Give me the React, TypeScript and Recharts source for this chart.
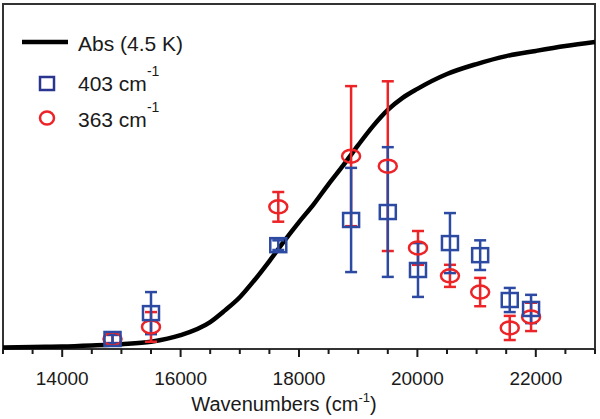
import React from "react";
import {
  ComposedChart,
  Line,
  Scatter,
  ErrorBar,
  XAxis,
  YAxis,
  ReferenceArea
} from "recharts";

// absorption curve (4.5 K), normalised
const absWavenumbers = [13000, 13500, 14000, 14500, 15000, 15500, 16000, 16500, 16750, 17000, 17250, 17500, 17750, 18000, 18250, 18500, 18750, 19000, 19250, 19500, 19750, 20000, 20500, 21000, 21500, 22000, 22500, 23000];
const absValues = [0.004, 0.006, 0.007, 0.010, 0.014, 0.021, 0.040, 0.078, 0.112, 0.150, 0.200, 0.255, 0.313, 0.368, 0.420, 0.478, 0.533, 0.591, 0.646, 0.693, 0.728, 0.754, 0.797, 0.826, 0.849, 0.864, 0.878, 0.890];

// excitation profile points
const pointWavenumbers = [14850, 15500, 17650, 18880, 19500, 20010, 20550, 21060, 21560, 21920];
const blueValues = [0.029, 0.104, 0.301, 0.374, 0.397, 0.229, 0.307, 0.272, 0.142, 0.116];
const blueErrors = [0.012, 0.061, 0.014, 0.151, 0.188, 0.078, 0.087, 0.043, 0.035, 0.041];
const redValues = [0.029, 0.064, 0.412, 0.559, 0.530, 0.293, 0.212, 0.165, 0.061, 0.093];
const redErrors = [0.012, 0.043, 0.043, 0.203, 0.246, 0.049, 0.032, 0.041, 0.035, 0.041];

const allTicks = [13000, 13500, 14000, 14500, 15000, 15500, 16000, 16500, 17000, 17500, 18000, 18500, 19000, 19500, 20000, 20500, 21000, 21500, 22000, 22500, 23000];
const labelTicks = [14000, 16000, 18000, 20000, 22000];

const BLUE = "#2d4aa3";
const RED = "#ec2327";
const FONT = "Arial, 'Liberation Sans', sans-serif";

const absData = absWavenumbers.map((w, i) => ({ w, abs: absValues[i] }));
const blueData = pointWavenumbers.map((w, i) => ({ w, v: blueValues[i], err: blueErrors[i] }));
const redData = pointWavenumbers.map((w, i) => ({ w, v: redValues[i], err: redErrors[i] }));

const Square = (p: any) => (
  <rect x={p.cx - 8} y={p.cy - 7} width={16} height={14} fill="none" stroke={BLUE} strokeWidth={2.5} />
);

const Oval = (p: any) => (
  <ellipse cx={p.cx} cy={p.cy} rx={9} ry={6.5} fill="none" stroke={RED} strokeWidth={2.5} />
);

const Tick = (p: any) => {
  const { x, y, payload } = p;
  const major = labelTicks.includes(payload.value);
  return (
    <g>
      <line x1={x} x2={x} y1={y} y2={y + (major ? 8 : 5)} stroke="#1a1a1a" strokeWidth={2} />
      {major && (
        <text x={x} y={y + 36} textAnchor="middle" fontSize={19} fill="#1a1a1a" fontFamily={FONT}>
          {payload.value}
        </text>
      )}
    </g>
  );
};

function App() {
  return (
    <div style={{ position: "absolute", left: 0, top: 0, width: 600, height: 419, background: "#fff" }}>
      <ComposedChart width={600} height={419} margin={{ top: 4, right: 5, left: 3, bottom: 0 }}>
        <XAxis
          dataKey="w"
          type="number"
          domain={[13000, 23000]}
          ticks={allTicks}
          interval={0}
          allowDataOverflow
          height={70}
          tickSize={0}
          tickMargin={0}
          tickLine={false}
          tick={<Tick />}
          axisLine={false}
        />
        <YAxis type="number" domain={[0, 1]} width={0} hide />
        <ReferenceArea
          x1={13000}
          x2={23000}
          y1={0}
          y2={1}
          fill="none"
          fillOpacity={0}
          stroke="#333"
          strokeWidth={2}
          ifOverflow="extendDomain"
        />
        <Line
          data={absData}
          dataKey="abs"
          type="monotone"
          stroke="#000"
          strokeWidth={4.5}
          dot={false}
          isAnimationActive={false}
        />
        <Scatter data={redData} dataKey="v" shape={<Oval />} isAnimationActive={false}>
          <ErrorBar dataKey="err" direction="y" width={6} stroke={RED} strokeWidth={2.5} />
        </Scatter>
        <Scatter data={blueData} dataKey="v" shape={<Square />} isAnimationActive={false}>
          <ErrorBar dataKey="err" direction="y" width={6} stroke={BLUE} strokeWidth={2.5} />
        </Scatter>
        <ReferenceArea
          x1={13000}
          x2={23000}
          y1={0}
          y2={0}
          fill="none"
          stroke="#1a1a1a"
          strokeWidth={2.5}
        />
      </ComposedChart>

      <svg width={600} height={419} style={{ position: "absolute", left: 0, top: 0, pointerEvents: "none" }}>
        <g fontFamily={FONT} fill="#1a1a1a">
          <line x1={22} x2={68} y1={42} y2={42} stroke="#000" strokeWidth={4.5} />
          <text x={78} y={51} fontSize={21}>Abs (4.5 K)</text>

          <rect x={40} y={77} width={14} height={13} fill="none" stroke="#2a358f" strokeWidth={2.5} />
          <text x={78} y={91} fontSize={21}>
            403 cm<tspan fontSize={14} dy={-15}>-1</tspan>
          </text>

          <ellipse cx={47} cy={118} rx={7} ry={6.5} fill="none" stroke={RED} strokeWidth={2.5} />
          <text x={78} y={127} fontSize={21}>
            363 cm<tspan fontSize={14} dy={-15}>-1</tspan>
          </text>

          <text x={284} y={411} fontSize={20} textAnchor="middle">
            Wavenumbers (cm<tspan fontSize={13} dy={-9}>-1</tspan><tspan dy={9}>)</tspan>
          </text>
        </g>
      </svg>
    </div>
  );
}

export default App;
